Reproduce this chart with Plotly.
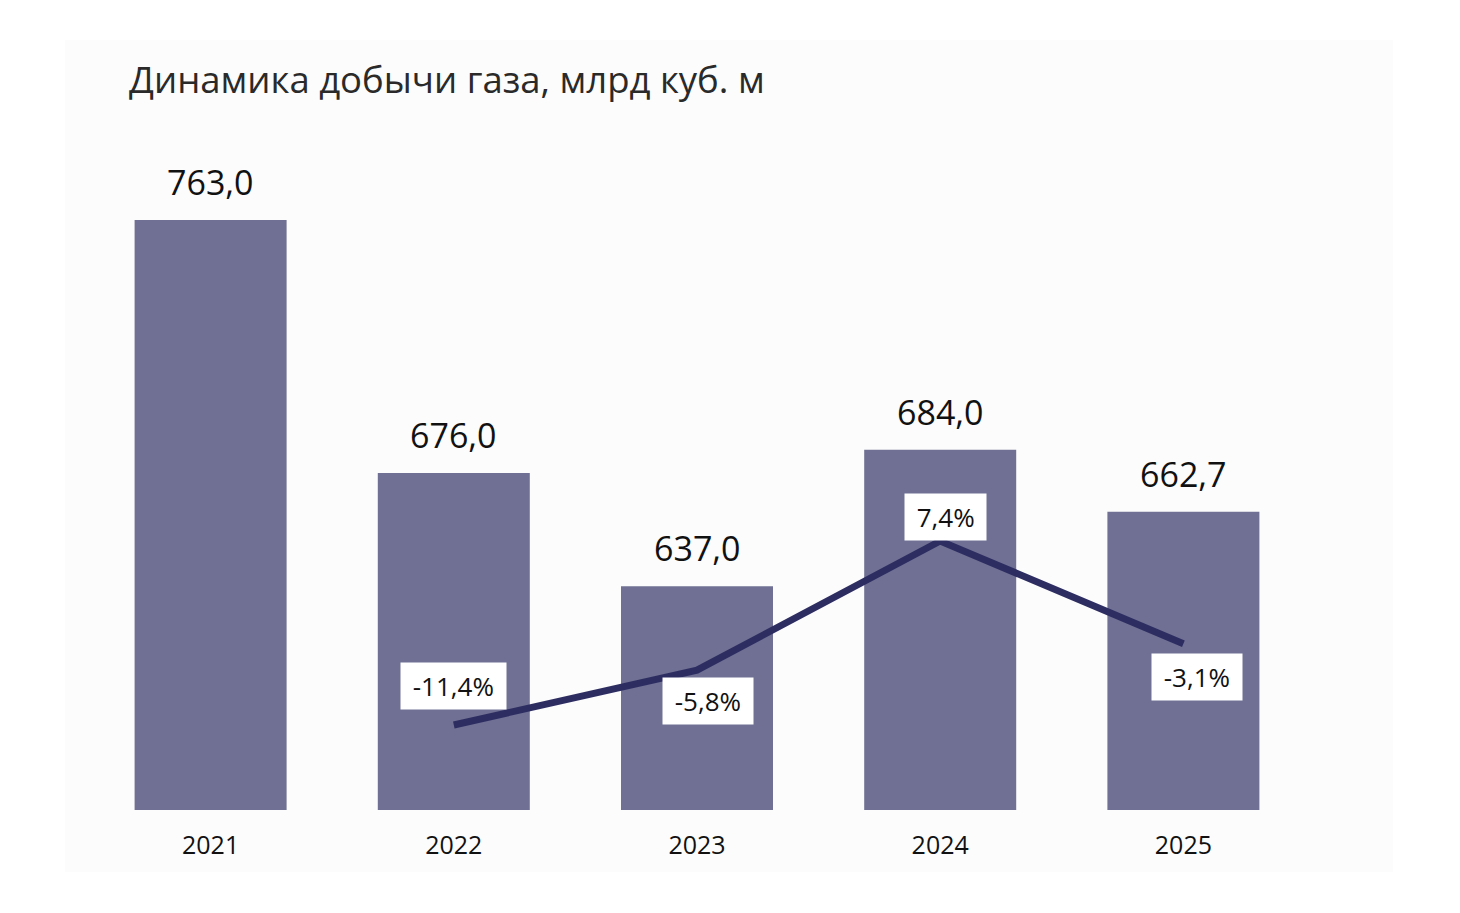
import plotly.graph_objects as go

years = ["2021", "2022", "2023", "2024", "2025"]
production = [763.0, 676.0, 637.0, 684.0, 662.7]
growth_years = ["2022", "2023", "2024", "2025"]
growth = [-11.4, -5.8, 7.4, -3.1]

def fmt(v, suffix=""):
    return f"{v:.1f}".replace(".", ",") + suffix

BAR = "#6f7093"
LINE = "#2e2d62"
FONT = "Open Sans"
OFF = 8  # page body margin of the browser
NB = "\u00a0"

fig = go.Figure()
fig.add_trace(go.Bar(
    x=years, y=production, marker=dict(color=BAR, line=dict(width=0)),
    width=0.625, hoverinfo="skip", showlegend=False,
))
fig.add_trace(go.Scatter(
    x=growth_years, y=growth, yaxis="y2", mode="lines",
    line=dict(color=LINE, width=7), hoverinfo="skip", showlegend=False,
))

annotations = []
for i, v in enumerate(production):
    annotations.append(dict(
        x=i, y=v, xref="x", yref="y", text=fmt(v), showarrow=False,
        yanchor="bottom", yshift=13, font=dict(family=FONT, size=34, color="#111111"),
    ))
offsets = {"2022": (0, 39), "2023": (11, -31), "2024": (5, 24), "2025": (14, -33)}
for x, g in zip(growth_years, growth):
    dx, dy = offsets[x]
    annotations.append(dict(
        x=years.index(x), y=g, xref="x", yref="y2", text=NB + fmt(g, "%") + NB,
        showarrow=False, xshift=dx, yshift=dy, bgcolor="white", borderpad=5,
        font=dict(family=FONT, size=26, color="#111111"),
    ))

L, R, T, B = 89 - OFF, 1305 - OFF, 150 - OFF, 810 - OFF
W, H = 1460, 913
fig.update_layout(
    width=W, height=H,
    margin=dict(l=L, r=W - R, t=T, b=H - B),
    paper_bgcolor="white", plot_bgcolor="rgba(0,0,0,0)",
    font=dict(family=FONT),
    title=dict(
        text="Динамика добычи газа, млрд куб. м",
        xref="container", yref="container", x=(129 - OFF) / W, xanchor="left",
        y=1 - (80 - OFF) / H, yanchor="middle",
        font=dict(family=FONT, size=36.5, color="#2a2a2a"),
    ),
    xaxis=dict(
        type="category", range=[-0.5, 4.5], showgrid=False, zeroline=False,
        showline=False, ticks="outside", ticklen=13, tickcolor="rgba(0,0,0,0)",
        tickfont=dict(family=FONT, size=25, color="#111111"),
    ),
    yaxis=dict(range=[560.1, 787.06], visible=False, showgrid=False),
    yaxis2=dict(range=[-20.085, 47.35], overlaying="y", visible=False, showgrid=False),
    annotations=annotations,
    shapes=[dict(
        type="rect", xref="paper", yref="paper", layer="below",
        x0=(65 - OFF - L) / (R - L), x1=(1393 - OFF - L) / (R - L),
        y0=(B - (872 - OFF)) / (B - T), y1=(B - (40 - OFF)) / (B - T),
        fillcolor="#fcfcfc", line=dict(width=0),
    )],
)

fig.write_html("out.html")
